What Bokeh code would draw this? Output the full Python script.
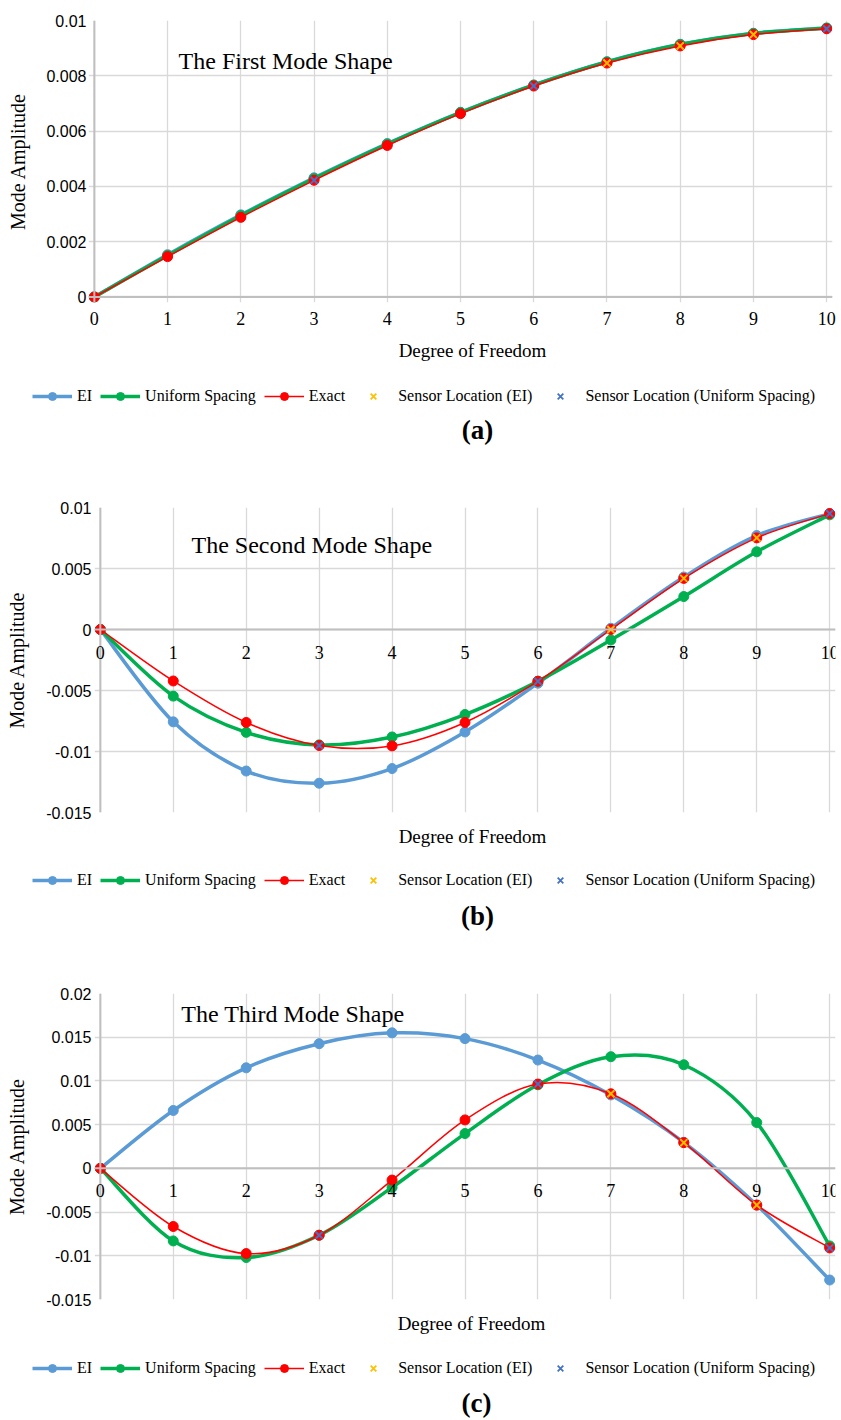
from bokeh.plotting import figure
from bokeh.models import (Range1d, FixedTicker, CustomJSTickFormatter, Span, Label, LabelSet,
                          ColumnDataSource, Legend, LegendItem, Grid)
from bokeh.core.properties import value
from bokeh.layouts import column, row
from bokeh.embed import file_html
from bokeh.resources import INLINE

# ---------------- data ----------------
dof = [0, 1, 2, 3, 4, 5, 6, 7, 8, 9, 10]
x_tick_labels = ["0", "1", "2", "3", "4", "5", "6", "7", "8", "9", "10"]

sensor_ei = [7, 8, 9]          # sensor locations chosen by EI
sensor_us = [3, 6, 10]         # sensor locations with uniform spacing

# first mode
a_ei = [0, 0.00153, 0.00297, 0.00431, 0.00555, 0.00668, 0.00767, 0.00851, 0.00914, 0.00954, 0.00972]
a_us = [0, 0.00150, 0.00294, 0.00428, 0.00553, 0.00667, 0.00766, 0.00850, 0.00913, 0.00953, 0.00973]
a_ex = [0, 0.00146, 0.00288, 0.00422, 0.00548, 0.00663, 0.00763, 0.00846, 0.00908, 0.00949, 0.00970]
a_yticks = [0, 0.002, 0.004, 0.006, 0.008, 0.01]

# second mode
b_ei = [0, -0.00757, -0.0116, -0.0126, -0.0114, -0.0084, -0.0044, 0.0001, 0.0043, 0.0077, 0.0095]
b_us = [0, -0.00546, -0.00843, -0.00946, -0.00881, -0.00697, -0.00424, -0.00086, 0.0027, 0.00637, 0.0094]
b_ex = [0, -0.00422, -0.00762, -0.00951, -0.00954, -0.00762, -0.00424, 0.0, 0.00419, 0.00751, 0.0095]
b_yticks = [-0.015, -0.01, -0.005, 0, 0.005, 0.01]

# third mode
c_ei = [0, 0.00662, 0.0115, 0.01426, 0.0155, 0.01484, 0.01239, 0.0084, 0.00298, -0.0042, -0.01277]
c_us = [0, -0.0083, -0.0102, -0.00765, -0.00218, 0.00398, 0.00956, 0.01277, 0.01185, 0.00524, -0.00887]
c_ex = [0, -0.00665, -0.00975, -0.00765, -0.00134, 0.00554, 0.00964, 0.00853, 0.00294, -0.0042, -0.0091]
c_yticks = [-0.015, -0.01, -0.005, 0, 0.005, 0.01, 0.015, 0.02]

C_EI = "#5B9BD5"
C_US = "#00B050"
C_EX = "#FF0000"
C_SEI = "#FFC000"
C_SUS = "#4472C4"

SERIF = "Liberation Serif"
SANS = "Liberation Sans"
W = 841
X_PAD = 0.08


def smooth_source(xs, ys):
    """Cubic Bezier segments through the points (Excel-style smoothed line)."""
    n = len(xs)
    d = dict(x0=[], y0=[], x1=[], y1=[], cx0=[], cy0=[], cx1=[], cy1=[])
    for i in range(n - 1):
        im = max(i - 1, 0)
        ip = min(i + 2, n - 1)
        d["x0"].append(xs[i]); d["y0"].append(ys[i])
        d["x1"].append(xs[i + 1]); d["y1"].append(ys[i + 1])
        d["cx0"].append(xs[i] + (xs[i + 1] - xs[im]) / 6.0)
        d["cy0"].append(ys[i] + (ys[i + 1] - ys[im]) / 6.0)
        d["cx1"].append(xs[i + 1] - (xs[ip] - xs[i]) / 6.0)
        d["cy1"].append(ys[i + 1] - (ys[ip] - ys[i]) / 6.0)
    return ColumnDataSource(d)


def plot_panel(title_text, ei, us, ex, yticks, y_lo, y_hi, height,
               b_top, b_bot, b_left, b_right, tx, ty, bottom_axis, ylab_standoff, ylab_gap):
    p = figure(width=W, height=height, output_backend="svg", toolbar_location=None,
               x_range=Range1d(-X_PAD, 10 + X_PAD), y_range=Range1d(y_lo, y_hi),
               x_axis_location="below" if bottom_axis else None,
               min_border_top=b_top, min_border_bottom=b_bot,
               min_border_left=b_left, min_border_right=b_right)
    p.outline_line_color = None
    p.background_fill_color = "white"
    p.border_fill_color = "white"

    # grids
    p.xgrid.visible = False
    p.add_layout(Grid(dimension=0, ticker=FixedTicker(ticks=dof),
                      grid_line_color="#d9d9d9", grid_line_width=1.3))
    p.ygrid.grid_line_color = "#d9d9d9"
    p.ygrid.grid_line_width = 1.3

    # y axis
    yax = p.yaxis[0]
    yax.ticker = FixedTicker(ticks=yticks)
    yax.formatter = CustomJSTickFormatter(code="return String(parseFloat(tick.toPrecision(6)));")
    yax.axis_line_color = None
    yax.major_tick_line_color = None
    yax.minor_tick_line_color = None
    yax.major_tick_out = 0
    yax.major_tick_in = 0
    yax.minor_tick_out = 0
    yax.major_label_standoff = ylab_gap
    yax.major_label_text_font = SANS
    yax.major_label_text_font_size = "16px"
    yax.major_label_text_color = "#000000"
    yax.axis_label = "Mode Amplitude"
    yax.axis_label_text_font = SERIF
    yax.axis_label_text_font_size = "20px"
    yax.axis_label_text_font_style = "normal"
    yax.axis_label_text_color = "#000000"
    yax.axis_label_standoff = ylab_standoff

    # axis lines
    p.add_layout(Span(location=0, dimension="width", line_color="#bfbfbf", line_width=2))
    p.add_layout(Span(location=0, dimension="height", line_color="#bfbfbf", line_width=2))

    if bottom_axis:
        xax = p.xaxis[0]
        xax.ticker = FixedTicker(ticks=dof)
        xax.axis_line_color = None
        xax.major_tick_line_color = None
        xax.minor_tick_line_color = None
        xax.major_tick_out = 0
        xax.major_tick_in = 0
        xax.minor_tick_out = 0
        xax.major_label_standoff = 9
        xax.major_label_text_font = SERIF
        xax.major_label_text_font_size = "18px"
        xax.major_label_text_color = "#000000"
    else:
        # x tick labels just under the zero line
        tsrc = ColumnDataSource(dict(x=dof, y=[0] * len(dof), t=x_tick_labels))
        p.add_layout(LabelSet(x="x", y="y", text="t", source=tsrc, text_align="center",
                              text_baseline="top", y_offset=-16, text_font=value(SERIF),
                              text_font_size="18px", text_color="#000000"))

    # series
    p.bezier("x0", "y0", "x1", "y1", "cx0", "cy0", "cx1", "cy1",
             source=smooth_source(dof, ei), line_color=C_EI, line_width=3.5)
    p.scatter(dof, ei, size=10, marker="circle", fill_color=C_EI, line_color=C_EI)
    p.bezier("x0", "y0", "x1", "y1", "cx0", "cy0", "cx1", "cy1",
             source=smooth_source(dof, us), line_color=C_US, line_width=3.5)
    p.scatter(dof, us, size=10, marker="circle", fill_color=C_US, line_color=C_US)
    p.bezier("x0", "y0", "x1", "y1", "cx0", "cy0", "cx1", "cy1",
             source=smooth_source(dof, ex), line_color=C_EX, line_width=1.5)
    p.scatter(dof, ex, size=10, marker="circle", fill_color=C_EX, line_color=C_EX)
    p.scatter(sensor_ei, [ex[i] for i in sensor_ei], size=10, marker="x",
              line_color=C_SEI, line_width=2)
    p.scatter(sensor_us, [ex[i] for i in sensor_us], size=10, marker="x",
              line_color=C_SUS, line_width=2)

    # in-plot title
    p.add_layout(Label(x=tx, y=ty, text=title_text, text_font=SERIF,
                       text_font_size="24px", text_baseline="middle", text_color="#000000"))
    return p


def footer(letter, H, xlab_cx, xlab_top, leg_x, leg_top, let_cx, let_top):
    """Strip under a panel: axis title, legend and panel letter (pixel coordinates)."""
    f = figure(width=W, height=H, output_backend="svg", toolbar_location=None,
               x_range=Range1d(0, W), y_range=Range1d(0, H),
               x_axis_location=None, y_axis_location=None,
               min_border=0, min_border_left=0, min_border_right=0,
               min_border_top=0, min_border_bottom=0)
    f.outline_line_color = None
    f.xgrid.visible = False
    f.ygrid.visible = False
    f.background_fill_color = "white"
    f.border_fill_color = "white"

    f.add_layout(Label(x=xlab_cx, y=H - xlab_top, text="Degree of Freedom",
                       text_font=SERIF, text_font_size="19px", text_align="center",
                       text_baseline="middle", text_color="#000000"))
    f.add_layout(Label(x=let_cx, y=H - let_top, text=letter,
                       text_font=SERIF, text_font_size="27px", text_font_style="bold",
                       text_align="center", text_baseline="middle", text_color="#000000"))

    # legend-only glyphs: one point each, placed outside the visible strip
    off = [-1000]
    l_ei = f.line(x=off, y=off, line_color=C_EI, line_width=3.5)
    m_ei = f.scatter(x=off, y=off, marker="circle", size=10, fill_color=C_EI, line_color=C_EI)
    l_us = f.line(x=off, y=off, line_color=C_US, line_width=3.5)
    m_us = f.scatter(x=off, y=off, marker="circle", size=10, fill_color=C_US, line_color=C_US)
    l_ex = f.line(x=off, y=off, line_color=C_EX, line_width=1.5)
    m_ex = f.scatter(x=off, y=off, marker="circle", size=10, fill_color=C_EX, line_color=C_EX)
    s_ei = f.scatter(x=off, y=off, marker="x", size=10, line_color=C_SEI, line_width=1.8)
    s_us = f.scatter(x=off, y=off, marker="x", size=10, line_color=C_SUS, line_width=1.8)

    leg_h = 24
    legend = Legend(items=[
        LegendItem(label="EI", renderers=[l_ei, m_ei]),
        LegendItem(label="Uniform Spacing", renderers=[l_us, m_us]),
        LegendItem(label="Exact", renderers=[l_ex, m_ex]),
        LegendItem(label="Sensor Location (EI)", renderers=[s_ei]),
        LegendItem(label="Sensor Location (Uniform Spacing)", renderers=[s_us]),
    ], orientation="horizontal", location=(leg_x, H - leg_top - leg_h / 2), border_line_alpha=0,
        background_fill_alpha=0, label_text_font=SERIF, label_text_font_size="16px",
        label_text_color="#000000", label_width=14,
        glyph_width=40, glyph_height=20, label_standoff=5, spacing=8, padding=2, margin=0)
    f.add_layout(legend, "center")
    return f


pa = plot_panel("The First Mode Shape", a_ei, a_us, a_ex, a_yticks, -0.0002, 0.01,
                335, 20, 33, 88, 9, 1.15, 0.00855, True, 14, 2)
fa = footer("(a)", 135, 472, 15, 30, 61, 477, 94)
pb = plot_panel("The Second Mode Shape", b_ei, b_us, b_ex, b_yticks, -0.015, 0.01,
                350, 37, 8, 94, 6, 1.25, 0.0069, False, 15, 3)
fb = footer("(b)", 130, 472, 16, 30, 60, 477, 95)
pc = plot_panel("The Third Mode Shape", c_ei, c_us, c_ex, c_yticks, -0.015, 0.02,
                357, 43, 8, 94, 6, 1.11, 0.0176, False, 15, 3)
fc = footer("(c)", 111, 471, 16, 30, 61, 476, 95)

# each figure in its own row so that their frames are laid out independently
layout = column(row(pa), row(fa), row(pb), row(fb), row(pc), row(fc), spacing=0)
open("out.html", "w").write(file_html(layout, INLINE))
